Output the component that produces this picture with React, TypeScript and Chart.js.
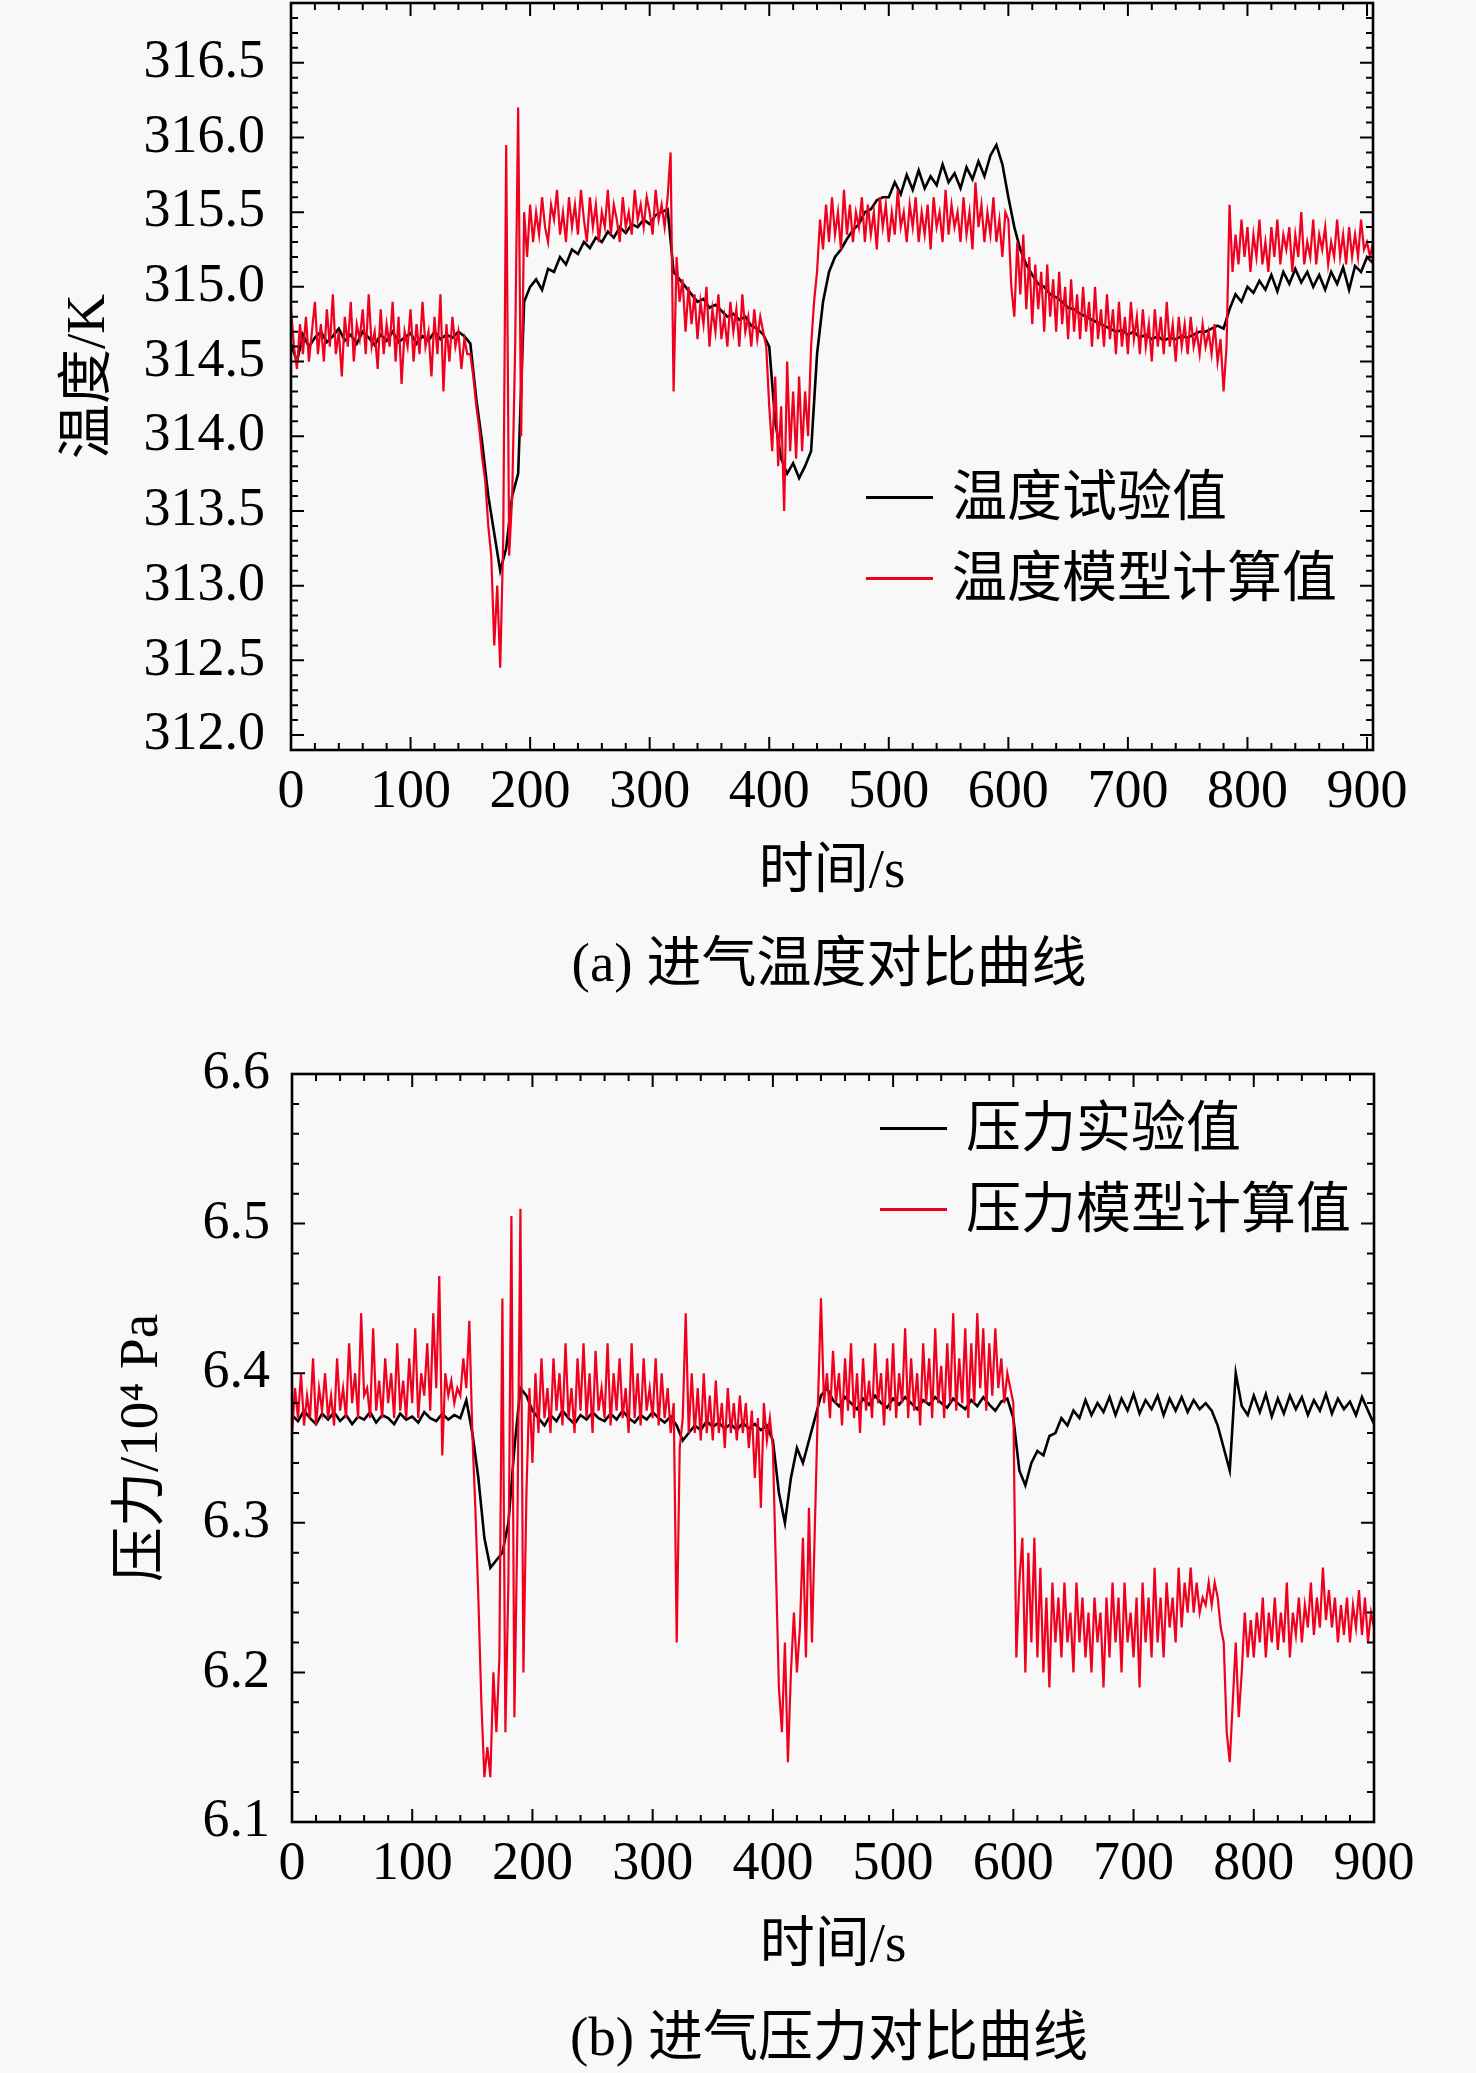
import { useEffect, useRef } from 'react';
import { Chart, registerables } from 'chart.js';

Chart.register(...registerables);

const SERIF = '"Liberation Serif", "Times New Roman", "Noto Sans CJK SC", serif';
const RED = '#f0001e';
const testStep = 5; // s between measured samples
const modelStep = 2.5; // s between model samples

const timeTicks = [0, 100, 200, 300, 400, 500, 600, 700, 800, 900];
const tempTicks = [312.0, 312.5, 313.0, 313.5, 314.0, 314.5, 315.0, 315.5, 316.0, 316.5];
const pressTicks = [6.1, 6.2, 6.3, 6.4, 6.5, 6.6];

// 进气温度试验值 (K), every 5 s, 0 … 905 s
const tempTest = [
  314.62, 314.5, 314.68, 314.6, 314.66, 314.7, 314.63, 314.67, 314.72, 314.64,
  314.68, 314.62, 314.7, 314.66, 314.61, 314.68, 314.64, 314.7, 314.63, 314.66,
  314.69, 314.62, 314.67, 314.64, 314.7, 314.65, 314.68, 314.66, 314.7, 314.67,
  314.62, 314.25, 313.95, 313.6, 313.35, 313.1, 313.25, 313.6, 313.75, 314.9,
  315.0, 315.05, 314.98, 315.12, 315.1, 315.2, 315.15, 315.25, 315.22, 315.3,
  315.26, 315.33, 315.3, 315.37, 315.33, 315.4, 315.36, 315.42, 315.4, 315.45,
  315.42, 315.48, 315.5, 315.52,
  315.1, 315.05, 315.0, 314.95, 314.9, 314.92, 314.86, 314.88, 314.84, 314.8,
  314.82, 314.78, 314.8, 314.74, 314.72, 314.68,
  314.6, 314.1, 313.85, 313.75, 313.82, 313.72, 313.8, 313.9,
  314.55, 314.9, 315.1, 315.2, 315.25, 315.32, 315.38, 315.42, 315.5, 315.52, 315.58, 315.6,
  315.6, 315.7, 315.62, 315.75, 315.65, 315.78, 315.66, 315.74, 315.68, 315.82,
  315.7, 315.76, 315.66, 315.8, 315.72, 315.84, 315.74, 315.88, 315.95, 315.82,
  315.6, 315.4, 315.25, 315.15, 315.08, 315.02, 315.0, 314.95, 314.93, 314.9,
  314.86, 314.85, 314.82, 314.8, 314.78, 314.76, 314.74, 314.72, 314.7, 314.71,
  314.68, 314.7, 314.66, 314.68, 314.65, 314.67, 314.64, 314.66, 314.65, 314.67,
  314.66, 314.68, 314.7, 314.7, 314.72, 314.74, 314.72,
  314.85, 314.95, 314.9, 315.0, 314.96, 315.04, 314.98, 315.08, 314.97, 315.1,
  315.02, 315.12, 315.03, 315.1, 315.0, 315.08, 314.98, 315.1, 315.02, 315.13,
  314.98, 315.14, 315.1, 315.2, 315.16,
];

// 进气温度模型计算值 (K), every 2.5 s, 0 … 905 s
const tempModel = [
  314.85, 314.6, 314.45, 314.75, 314.55, 314.8, 314.5, 314.7, 314.9, 314.55,
  314.75, 314.5, 314.85, 314.6, 314.95, 314.55, 314.7, 314.4, 314.8, 314.6,
  314.9, 314.5, 314.75, 314.65, 314.85, 314.55, 314.95, 314.6, 314.7, 314.45,
  314.85, 314.55, 314.75, 314.6, 314.9, 314.5, 314.8, 314.35, 314.7, 314.6,
  314.85, 314.5, 314.75, 314.55, 314.9, 314.6, 314.7, 314.4, 314.8, 314.55,
  314.95, 314.3, 314.75, 314.5, 314.8, 314.6, 314.7, 314.45, 314.65, 314.55,
  314.55, 314.4, 314.2, 314.05, 313.85, 313.7, 313.4, 313.2, 312.6, 313.0,
  312.45, 313.3, 315.95, 313.2, 313.6, 314.6, 316.2, 314.0, 315.5, 315.2,
  315.55, 315.3, 315.5, 315.35, 315.6, 315.4, 315.3, 315.55, 315.45, 315.65,
  315.35, 315.5, 315.3, 315.6, 315.4, 315.55, 315.35, 315.65, 315.45, 315.3,
  315.6, 315.4, 315.55, 315.3, 315.5, 315.4, 315.65, 315.35, 315.55, 315.45,
  315.3, 315.6, 315.4, 315.5, 315.35, 315.65, 315.45, 315.55, 315.4, 315.6,
  315.5, 315.35, 315.65, 315.45, 315.55, 315.4, 315.6, 315.9,
  314.3, 315.2, 314.9, 315.05, 314.7, 315.0, 314.75, 314.95, 314.65, 314.9,
  314.75, 315.0, 314.6, 314.85, 314.7, 314.95, 314.65, 314.8, 314.6, 314.9,
  314.7, 314.85, 314.6, 314.95, 314.7, 314.8, 314.6, 314.85, 314.65, 314.8,
  314.7, 314.6,
  314.2, 313.9, 314.4, 313.8, 314.2, 313.5, 314.5, 313.9, 314.3, 313.85,
  314.4, 313.9, 314.3, 314.0, 314.6, 314.9,
  315.1, 315.45, 315.25, 315.55, 315.3, 315.6, 315.35, 315.5, 315.25, 315.65,
  315.35, 315.55, 315.3, 315.5, 315.4, 315.6, 315.3, 315.55, 315.35, 315.5,
  315.25, 315.6, 315.4, 315.55, 315.3, 315.5, 315.35, 315.65, 315.4, 315.5,
  315.3, 315.55, 315.4, 315.6, 315.3, 315.5, 315.35, 315.55, 315.25, 315.6,
  315.4, 315.5, 315.3, 315.65, 315.35, 315.55, 315.4, 315.5, 315.3, 315.6,
  315.35, 315.5, 315.25, 315.7, 315.4, 315.55, 315.3, 315.5, 315.35, 315.6,
  315.3, 315.45, 315.2, 315.5,
  315.45, 315.0, 314.8, 315.3, 314.95, 315.35, 314.85, 315.2, 314.75, 315.15,
  314.85, 315.1, 314.7, 315.15, 314.8, 315.05, 314.7, 315.1, 314.75, 315.0,
  314.65, 315.05, 314.7, 314.95, 314.65, 315.0, 314.7, 314.9, 314.6, 315.0,
  314.65, 314.85, 314.6, 314.95, 314.65, 314.85, 314.55, 314.9, 314.6, 314.8,
  314.55, 314.9, 314.65, 314.8, 314.55, 314.85, 314.6, 314.75, 314.5, 314.85,
  314.6, 314.8, 314.55, 314.9, 314.6, 314.75, 314.5, 314.8, 314.6, 314.75,
  314.55, 314.8, 314.6, 314.7, 314.55, 314.75, 314.6, 314.7, 314.55, 314.75,
  314.5, 314.65, 314.3, 314.6,
  315.55, 315.1, 315.35, 315.15, 315.45, 315.2, 315.4, 315.1, 315.35, 315.2,
  315.45, 315.15, 315.3, 315.1, 315.4, 315.2, 315.45, 315.15, 315.35, 315.25,
  315.4, 315.1, 315.35, 315.2, 315.5, 315.15, 315.3, 315.2, 315.45, 315.15,
  315.35, 315.25, 315.4, 315.15, 315.3, 315.2, 315.45, 315.2, 315.35, 315.15,
  315.4, 315.2, 315.35, 315.2, 315.45, 315.25, 315.3, 315.2, 315.3,
];

// 进气压力实验值 (10^4 Pa), every 5 s, 0 … 900 s
const pressTest = [
  6.372, 6.368, 6.375, 6.37, 6.366, 6.373, 6.369, 6.374, 6.368, 6.372,
  6.366, 6.371, 6.369, 6.374, 6.367, 6.372, 6.37, 6.366, 6.373, 6.369,
  6.371, 6.367, 6.374, 6.37, 6.368, 6.373, 6.369, 6.372, 6.37, 6.382,
  6.36, 6.33, 6.29, 6.27, 6.275, 6.28, 6.3, 6.35, 6.39, 6.385,
  6.375, 6.37, 6.365, 6.372, 6.368, 6.375, 6.37, 6.366, 6.372, 6.369,
  6.374, 6.37, 6.368, 6.373, 6.369, 6.375, 6.37, 6.367, 6.372, 6.369,
  6.374, 6.37, 6.367, 6.371,
  6.365, 6.355, 6.36, 6.365, 6.362, 6.368, 6.364, 6.367, 6.363, 6.366,
  6.362, 6.367, 6.363, 6.366, 6.362, 6.365,
  6.355, 6.32, 6.3, 6.33, 6.35, 6.34, 6.355, 6.37,
  6.385, 6.39, 6.382, 6.378, 6.384, 6.38, 6.376, 6.383, 6.379, 6.385,
  6.38, 6.377, 6.383, 6.379, 6.384, 6.38, 6.376, 6.382, 6.379, 6.384,
  6.38, 6.377, 6.383, 6.379, 6.376, 6.382, 6.378, 6.384, 6.379, 6.375,
  6.381, 6.383,
  6.37, 6.335, 6.325, 6.34, 6.348, 6.345, 6.358, 6.36, 6.37, 6.365,
  6.375, 6.37, 6.382, 6.372, 6.38, 6.374, 6.384, 6.372, 6.383, 6.375,
  6.386, 6.373, 6.382, 6.376, 6.385, 6.372, 6.383, 6.375, 6.384, 6.374,
  6.382, 6.376, 6.38, 6.375, 6.365, 6.35,
  6.335, 6.4, 6.378, 6.372, 6.385, 6.374, 6.386, 6.371, 6.383, 6.373,
  6.385, 6.376, 6.384, 6.372, 6.382, 6.375, 6.386, 6.373, 6.383, 6.376,
  6.381, 6.372, 6.384, 6.375, 6.366,
];

// 进气压力模型计算值 (10^4 Pa), every 2.5 s, 0 … 900 s
const pressModel = [
  6.36, 6.39, 6.37, 6.4, 6.365, 6.385, 6.37, 6.41, 6.365, 6.39,
  6.375, 6.4, 6.37, 6.385, 6.365, 6.41, 6.375, 6.39, 6.37, 6.42,
  6.38, 6.4, 6.37, 6.44, 6.385, 6.39, 6.37, 6.43, 6.375, 6.395,
  6.37, 6.41, 6.38, 6.4, 6.37, 6.42, 6.375, 6.395, 6.37, 6.41,
  6.38, 6.43, 6.37, 6.4, 6.385, 6.42, 6.375, 6.44, 6.39, 6.465,
  6.345, 6.4, 6.385, 6.395, 6.38, 6.39, 6.385, 6.41, 6.39, 6.435,
  6.36, 6.31, 6.25, 6.18, 6.13, 6.15, 6.13, 6.2, 6.16, 6.21,
  6.45, 6.16, 6.26, 6.505, 6.17, 6.3, 6.51, 6.2, 6.32, 6.39,
  6.34, 6.4, 6.36, 6.41, 6.37, 6.39, 6.36, 6.41, 6.375, 6.4,
  6.365, 6.42, 6.37, 6.39, 6.36, 6.41, 6.375, 6.42, 6.37, 6.4,
  6.36, 6.415, 6.375, 6.39, 6.37, 6.42, 6.365, 6.4, 6.375, 6.41,
  6.37, 6.39, 6.36, 6.42, 6.37, 6.4, 6.365, 6.41, 6.375, 6.39,
  6.37, 6.41, 6.365, 6.4, 6.37, 6.39, 6.36, 6.38,
  6.22, 6.35, 6.37, 6.44, 6.36, 6.4, 6.36, 6.39, 6.355, 6.4,
  6.36, 6.385, 6.355, 6.395, 6.36, 6.38, 6.35, 6.39, 6.36, 6.38,
  6.355, 6.385, 6.36, 6.38, 6.35, 6.375, 6.33, 6.37, 6.31, 6.38,
  6.355, 6.37,
  6.35, 6.27, 6.19, 6.16, 6.22, 6.14, 6.2, 6.24, 6.2, 6.23,
  6.29, 6.21, 6.31, 6.22, 6.3, 6.38,
  6.45, 6.38, 6.4, 6.37, 6.415, 6.38, 6.4, 6.365, 6.41, 6.375,
  6.42, 6.37, 6.4, 6.36, 6.41, 6.375, 6.395, 6.37, 6.42, 6.38,
  6.4, 6.365, 6.41, 6.375, 6.42, 6.37, 6.4, 6.38, 6.43, 6.37,
  6.41, 6.375, 6.4, 6.365, 6.42, 6.38, 6.41, 6.37, 6.43, 6.38,
  6.405, 6.37, 6.42, 6.38, 6.44, 6.375, 6.41, 6.38, 6.43, 6.37,
  6.42, 6.38, 6.44, 6.39, 6.43, 6.375, 6.42, 6.385, 6.43, 6.39,
  6.41, 6.38, 6.4, 6.39,
  6.38, 6.21, 6.26, 6.29, 6.2, 6.28, 6.22, 6.29, 6.21, 6.27,
  6.2, 6.25, 6.19, 6.26, 6.22, 6.25, 6.21, 6.26, 6.22, 6.24,
  6.2, 6.26, 6.22, 6.25, 6.21, 6.24, 6.2, 6.25, 6.22, 6.24,
  6.19, 6.25, 6.21, 6.26, 6.22, 6.25, 6.2, 6.26, 6.22, 6.24,
  6.21, 6.25, 6.19, 6.26, 6.22, 6.25, 6.21, 6.27, 6.22, 6.25,
  6.21, 6.26, 6.23, 6.25, 6.22, 6.27, 6.23, 6.26, 6.24, 6.27,
  6.24, 6.26, 6.24, 6.25, 6.245, 6.26, 6.245, 6.26, 6.25, 6.23,
  6.22, 6.16,
  6.14, 6.18, 6.22, 6.17, 6.2, 6.24, 6.21, 6.235, 6.21, 6.24,
  6.22, 6.25, 6.21, 6.24, 6.22, 6.25, 6.215, 6.24, 6.22, 6.26,
  6.21, 6.24, 6.225, 6.25, 6.22, 6.245, 6.23, 6.26, 6.225, 6.25,
  6.23, 6.27, 6.235, 6.255, 6.23, 6.25, 6.22, 6.245, 6.225, 6.25,
  6.22, 6.245, 6.23, 6.255, 6.225, 6.25, 6.22, 6.24, 6.23,
];

const toPoints = (vals: number[], step: number) => vals.map((y, i) => ({ x: i * step, y }));

// frame around the plot with inward major/minor ticks on all four sides
const framePlugin = {
  id: 'frame',
  afterDatasetsDraw(chart: any, _args: any, opts: any) {
    const { ctx, chartArea } = chart;
    const { left, right, top, bottom } = chartArea;
    const xs = chart.scales.x;
    const ys = chart.scales.y;
    ctx.save();
    ctx.strokeStyle = '#000';
    ctx.lineWidth = 2;
    const drawTicks = (scale: any, step: number, ratio: number, horizontal: boolean) => {
      const k0 = Math.ceil(scale.min / step - 1e-6);
      const k1 = Math.floor(scale.max / step + 1e-6);
      for (let k = k0; k <= k1; k++) {
        const len = k % ratio === 0 ? 13 : 7;
        const p = scale.getPixelForValue(k * step);
        ctx.beginPath();
        if (horizontal) {
          ctx.moveTo(p, bottom);
          ctx.lineTo(p, bottom - len);
          ctx.moveTo(p, top);
          ctx.lineTo(p, top + len);
        } else {
          ctx.moveTo(left, p);
          ctx.lineTo(left + len, p);
          ctx.moveTo(right, p);
          ctx.lineTo(right - len, p);
        }
        ctx.stroke();
      }
    };
    drawTicks(xs, opts.xMinor, opts.xRatio, true);
    drawTicks(ys, opts.yMinor, opts.yRatio, false);
    ctx.lineWidth = 2.6;
    ctx.strokeRect(left, top, right - left, bottom - top);
    ctx.restore();
  },
};

interface PanelProps {
  test: number[];
  model: number[];
  xMax: number;
  yMin: number;
  yMax: number;
  yTicks: number[];
  yMinor: number;
  yRatio: number;
  yTitle: string;
  yTitlePad: number;
  yLabelPad: number;
  padTop: number;
  padRight: number;
  yAxisWidth: number;
  xAxisHeight: number;
  xTitlePad: number;
}

const Panel = (p: PanelProps) => {
  const chartRef = useRef<HTMLCanvasElement | null>(null);

  useEffect(() => {
    if (!chartRef.current) return;
    const chart = new Chart(chartRef.current, {
      type: 'line',
      data: {
        datasets: [
          { data: toPoints(p.model, modelStep), borderColor: RED, borderWidth: 2.2, pointRadius: 0, tension: 0 },
          { data: toPoints(p.test, testStep), borderColor: '#000', borderWidth: 2.6, pointRadius: 0, tension: 0 },
        ],
      },
      options: {
        animation: false,
        responsive: true,
        maintainAspectRatio: false,
        layout: { padding: { top: p.padTop, right: p.padRight, bottom: 0, left: 0 } },
        plugins: {
          legend: { display: false },
          tooltip: { enabled: false },
          frame: { xMinor: 20, xRatio: 5, yMinor: p.yMinor, yRatio: p.yRatio },
        } as any,
        scales: {
          x: {
            type: 'linear',
            min: 0,
            max: p.xMax,
            grid: { display: false, drawTicks: false, tickLength: 0 },
            border: { display: false },
            afterBuildTicks: (s: any) => {
              s.ticks = timeTicks.map((v) => ({ value: v }));
            },
            ticks: {
              autoSkip: false,
              maxRotation: 0,
              padding: 10,
              color: '#000',
              font: { family: SERIF, size: 54 },
              callback: (v: any) => String(v),
            },
            title: {
              display: true,
              text: '时间/s',
              color: '#000',
              font: { family: SERIF, size: 55 },
              padding: { top: 0, bottom: p.xTitlePad },
            },
            afterFit: (s: any) => {
              s.height = p.xAxisHeight;
              s.paddingLeft = 0;
              s.paddingRight = 0;
            },
          },
          y: {
            type: 'linear',
            min: p.yMin,
            max: p.yMax,
            grid: { display: false, drawTicks: false, tickLength: 0 },
            border: { display: false },
            afterBuildTicks: (s: any) => {
              s.ticks = p.yTicks.map((v) => ({ value: v }));
            },
            ticks: {
              autoSkip: false,
              padding: p.yLabelPad,
              color: '#000',
              font: { family: SERIF, size: 54 },
              callback: (v: any) => Number(v).toFixed(1),
            },
            title: {
              display: true,
              text: p.yTitle,
              color: '#000',
              font: { family: SERIF, size: 55 },
              padding: { top: p.yTitlePad, bottom: 0 },
            },
            afterFit: (s: any) => {
              s.width = p.yAxisWidth;
              s.paddingTop = 0;
              s.paddingBottom = 0;
            },
          },
        },
      },
      plugins: [framePlugin],
    });
    return () => chart.destroy();
  }, [p]);

  return <canvas ref={chartRef}></canvas>;
};

const textStyle = {
  fontFamily: SERIF,
  fontSize: 55,
  lineHeight: '70px',
  color: '#000',
  whiteSpace: 'nowrap' as const,
};

const LegendRow = ({ x, y, color, label }: { x: number; y: number; color: string; label: string }) => (
  <div style={{ position: 'absolute', left: x, top: y - 35, height: 70, display: 'flex', alignItems: 'center' }}>
    <div style={{ width: 67, height: 3, background: color, marginRight: 19 }} />
    <span style={textStyle}>{label}</span>
  </div>
);

const Caption = ({ cx, cy, text }: { cx: number; cy: number; text: string }) => (
  <div style={{ ...textStyle, position: 'absolute', left: cx - 500, width: 1000, top: cy - 35, textAlign: 'center' }}>
    {text}
  </div>
);

const tempPanel: PanelProps = {
  test: tempTest,
  model: tempModel,
  xMax: 905,
  yMin: 311.9,
  yMax: 316.9,
  yTicks: tempTicks,
  yMinor: 0.1,
  yRatio: 5,
  yTitle: '温度/K',
  yTitlePad: 57,
  yLabelPad: 26,
  padTop: 3,
  padRight: 103,
  yAxisWidth: 291,
  xAxisHeight: 250,
  xTitlePad: 94,
};

const pressPanel: PanelProps = {
  test: pressTest,
  model: pressModel,
  xMax: 900,
  yMin: 6.1,
  yMax: 6.6,
  yTicks: pressTicks,
  yMinor: 0.02,
  yRatio: 5,
  yTitle: '压力/10⁴ Pa',
  yTitlePad: 110,
  yLabelPad: 22,
  padTop: 74,
  padRight: 102,
  yAxisWidth: 292,
  xAxisHeight: 178,
  xTitlePad: 20,
};

const App = () => (
  <div style={{ position: 'absolute', left: 0, top: 0, width: 1476, height: 2073, background: '#f8f8f8', overflow: 'hidden' }}>
    <div style={{ position: 'absolute', left: 0, top: 0, width: 1476, height: 1000 }}>
      <Panel {...tempPanel} />
    </div>
    <LegendRow x={866} y={497} color="#000" label="温度试验值" />
    <LegendRow x={866} y={578} color={RED} label="温度模型计算值" />
    <Caption cx={829} cy={963} text="(a) 进气温度对比曲线" />

    <div style={{ position: 'absolute', left: 0, top: 1000, width: 1476, height: 1000 }}>
      <Panel {...pressPanel} />
    </div>
    <LegendRow x={880} y={1128} color="#000" label="压力实验值" />
    <LegendRow x={880} y={1209} color={RED} label="压力模型计算值" />
    <Caption cx={829} cy={2037} text="(b) 进气压力对比曲线" />
  </div>
);

export default App;
